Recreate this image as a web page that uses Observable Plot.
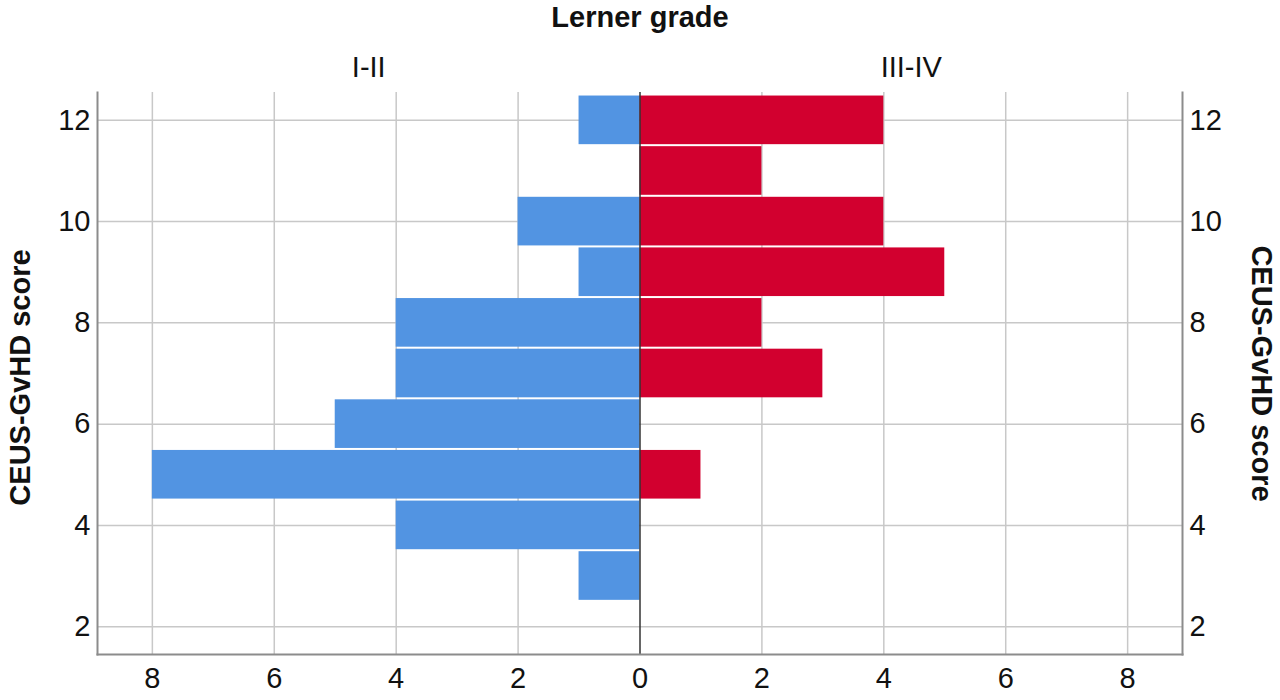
<!DOCTYPE html>
<html>
<head>
<meta charset="utf-8">
<script src="https://cdn.jsdelivr.net/npm/d3@7"></script>
<script src="https://cdn.jsdelivr.net/npm/@observablehq/plot@0.6"></script>
<style>
  html, body { margin: 0; padding: 0; background: #fff; }
</style>
</head>
<body>
<div id="chart"></div>
<script>
// Data
const scores = [12, 11, 10, 9, 8, 7, 6, 5, 4, 3];
const gradeI_II = [1, 0, 2, 1, 4, 4, 5, 8, 4, 1];
const gradeIII_IV = [4, 2, 4, 5, 2, 3, 0, 1, 0, 0];
const groups = ["I-II", "III-IV"];
const groupColors = ["#5294e2", "#d2002f"];
const yTicks = [2, 4, 6, 8, 10, 12];
const xTicks = [-8, -6, -4, -2, 0, 2, 4, 6, 8];
const title = "Lerner grade";
const yLabel = "CEUS-GvHD score";

const xMax = 8.9;
const yDomain = [1.45, 12.55];

const rows = [];
scores.forEach((s, i) => {
  if (gradeI_II[i] > 0) rows.push({score: s, group: groups[0], value: -gradeI_II[i]});
  if (gradeIII_IV[i] > 0) rows.push({score: s, group: groups[1], value: gradeIII_IV[i]});
});

const font = "'Liberation Sans', Arial, sans-serif";
const fs = 29;

const plot = Plot.plot({
  width: 1280,
  height: 700,
  marginLeft: 97,
  marginRight: 98,
  marginTop: 92,
  marginBottom: 46,
  style: {fontFamily: font, fontSize: fs + "px", background: "#fff", color: "#111"},
  x: {domain: [-xMax, xMax], ticks: xTicks, tickFormat: d => Math.abs(d)},
  y: {domain: yDomain, ticks: yTicks},
  color: {domain: groups, range: groupColors},
  marks: [
    Plot.gridX(xTicks.filter(d => d !== 0), {stroke: "#c8c8c8", strokeOpacity: 1, strokeWidth: 1.5}),
    Plot.gridY(yTicks, {stroke: "#c8c8c8", strokeOpacity: 1, strokeWidth: 1.5}),
    Plot.rect(rows, {
      x1: 0,
      x2: "value",
      y1: d => d.score - 0.5,
      y2: d => d.score + 0.5,
      fill: "group",
      insetTop: 1,
      insetBottom: 1
    }),
    Plot.ruleX([0], {stroke: "#333", strokeWidth: 1.5}),
    Plot.frame({anchor: "left", stroke: "#8c8c8c", strokeWidth: 2}),
    Plot.frame({anchor: "right", stroke: "#8c8c8c", strokeWidth: 2}),
    Plot.frame({anchor: "bottom", stroke: "#8c8c8c", strokeWidth: 2}),
    Plot.axisX({ticks: xTicks, tickFormat: d => Math.abs(d), tickSize: 0, tickPadding: 13, label: null, fontSize: fs, fill: "#111"}),
    Plot.axisY({anchor: "left", ticks: yTicks, tickSize: 0, tickPadding: 7, label: null, fontSize: fs, fill: "#111"}),
    Plot.axisY({anchor: "right", ticks: yTicks, tickSize: 0, tickPadding: 7, label: null, fontSize: fs, fill: "#111"}),
    Plot.text(groups, {
      x: d => (d === groups[0] ? -1 : 1) * xMax / 2,
      frameAnchor: "top",
      lineAnchor: "middle",
      dy: -24.5,
      text: d => d,
      fontSize: fs,
      fill: "#111"
    }),
    Plot.text([title], {frameAnchor: "top", lineAnchor: "middle", dy: -74.5, fontSize: fs, fontWeight: "bold", fill: "#111"}),
    Plot.text([yLabel], {frameAnchor: "left", textAnchor: "middle", lineAnchor: "middle", dx: -77, dy: 4, rotate: -90, fontSize: fs, fontWeight: "bold", fill: "#111"}),
    Plot.text([yLabel], {frameAnchor: "right", textAnchor: "middle", lineAnchor: "middle", dx: 79, rotate: 90, fontSize: fs, fontWeight: "bold", fill: "#111"})
  ]
});

document.getElementById("chart").appendChild(plot);
</script>
</body>
</html>
